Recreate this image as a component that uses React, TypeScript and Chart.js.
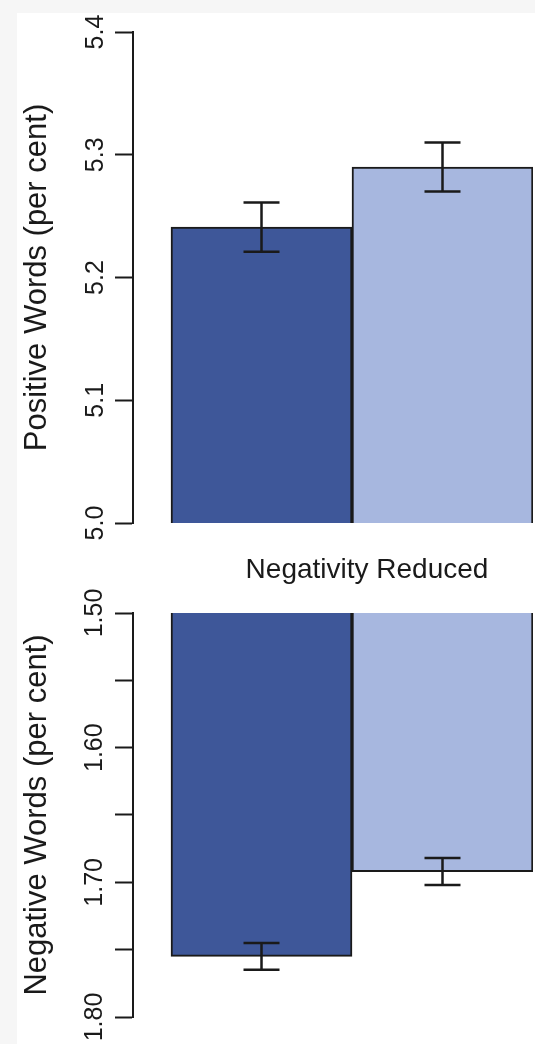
import React, { useEffect, useRef } from 'react';
import { Chart, registerables } from 'chart.js';

Chart.register(...registerables);

// ---- data ----
const groups = ['Control', 'Negativity Reduced'];
const barPositions = [0, 1];
const positiveMeans = [5.241, 5.29];
const positiveErrors = [0.02, 0.02];
const negativeMeans = [1.755, 1.692];
const negativeErrors = [0.01, 0.01];
const positiveTicks = [5.0, 5.1, 5.2, 5.3, 5.4];
const negativeTicks = [1.5, 1.55, 1.6, 1.65, 1.7, 1.75, 1.8];
const negativeLabelledTicks = [1.5, 1.6, 1.7, 1.8];
const positiveTitle = 'Positive Words (per cent)';
const negativeTitle = 'Negative Words (per cent)';
const groupLabel = 'Negativity Reduced';

const barColors = ['#3e5799', '#a7b7df'];
const FONT = '"Liberation Sans", Arial, sans-serif';
const INK = '#1a1a1a';

function errorBarPlugin(errors: number[]) {
  return {
    id: 'errorBars',
    afterDatasetsDraw(chart: any) {
      const meta = chart.getDatasetMeta(0);
      const y = chart.scales.y;
      const ctx = chart.ctx;
      const ds = chart.data.datasets[0];
      ctx.save();
      ctx.strokeStyle = INK;
      ctx.lineWidth = 2.5;
      meta.data.forEach((bar: any, i: number) => {
        const v = ds.data[i].y;
        const e = errors[i];
        const yTop = y.getPixelForValue(v + e);
        const yBot = y.getPixelForValue(v - e);
        const x = bar.x;
        const half = 18;
        ctx.beginPath();
        ctx.moveTo(x, yTop);
        ctx.lineTo(x, yBot);
        ctx.moveTo(x - half, yTop);
        ctx.lineTo(x + half, yTop);
        ctx.moveTo(x - half, yBot);
        ctx.lineTo(x + half, yBot);
        ctx.stroke();
      });
      ctx.restore();
    },
  };
}

function makeChart(
  canvas: HTMLCanvasElement,
  means: number[],
  errors: number[],
  ticks: number[],
  reverse: boolean,
  labelFn: (v: number) => string,
  title: string,
  padTop: number,
  padBottom: number,
  labelPadding: number
) {
  return new Chart(canvas, {
    type: 'bar',
    data: {
      labels: groups,
      datasets: [
        {
          label: title,
          data: barPositions.map((x, i) => ({ x, y: means[i] })) as any,
          backgroundColor: barColors,
          borderColor: INK,
          borderWidth: 2,
          borderSkipped: false,
          barPercentage: 1,
          categoryPercentage: 1,
        },
      ],
    },
    options: {
      responsive: false,
      animation: false,
      layout: { padding: { left: 0, right: 2, top: padTop, bottom: padBottom } },
      plugins: {
        legend: { display: false },
        tooltip: { enabled: false },
        title: { display: false },
      },
      scales: {
        x: {
          type: 'linear',
          min: -0.71,
          max: 1.5,
          offset: false,
          display: false,
          afterBuildTicks: (s: any) => {
            s.ticks = barPositions.map((v) => ({ value: v }));
          },
        },
        y: {
          type: 'linear',
          position: 'left',
          min: ticks[0],
          max: ticks[ticks.length - 1],
          reverse,
          afterBuildTicks: (s: any) => {
            s.ticks = ticks.map((v) => ({ value: v }));
          },
          afterFit: (s: any) => {
            s.width = 133;
          },
          border: { display: true, color: INK, width: 2 },
          grid: {
            drawOnChartArea: false,
            drawTicks: true,
            tickLength: 18,
            tickWidth: 2,
            tickColor: INK,
            color: INK,
          },
          ticks: {
            minRotation: 90,
            maxRotation: 90,
            crossAlign: 'center',
            padding: labelPadding,
            autoSkip: false,
            color: INK,
            font: { family: FONT, size: 25 },
            callback: (v: any) => labelFn(Number(v)),
          },
          title: {
            display: true,
            text: title,
            color: INK,
            font: { family: FONT, size: 31 },
            padding: { top: 19, bottom: 0 },
          },
        },
      },
    } as any,
    plugins: [errorBarPlugin(errors)],
  });
}

export default function App() {
  const topRef = useRef<HTMLCanvasElement>(null);
  const bottomRef = useRef<HTMLCanvasElement>(null);

  useEffect(() => {
    const c1 = makeChart(
      topRef.current!,
      positiveMeans,
      positiveErrors,
      positiveTicks,
      false,
      (v) => v.toFixed(1),
      positiveTitle,
      32,
      27,
      2
    );
    const c2 = makeChart(
      bottomRef.current!,
      negativeMeans,
      negativeErrors,
      negativeTicks,
      true,
      (v) => (negativeLabelledTicks.some((t) => Math.abs(t - v) < 1e-6) ? v.toFixed(2) : ''),
      negativeTitle,
      63,
      27,
      -4
    );
    return () => {
      c1.destroy();
      c2.destroy();
    };
  }, []);

  return (
    <div
      style={{
        position: 'fixed',
        left: 0,
        top: 0,
        width: 535,
        height: 1044,
        background: '#f6f6f6',
        overflow: 'hidden',
      }}
    >
      <div style={{ position: 'absolute', left: 17, top: 13, right: 0, bottom: 0, background: '#ffffff' }} />
      <canvas ref={topRef} width={535} height={550} style={{ position: 'absolute', left: 0, top: 0 }} />
      <canvas ref={bottomRef} width={535} height={494} style={{ position: 'absolute', left: 0, top: 550 }} />
      <div
        style={{
          position: 'absolute',
          left: 167,
          width: 400,
          top: 555,
          textAlign: 'center',
          fontFamily: FONT,
          fontSize: 28,
          lineHeight: '28px',
          color: INK,
        }}
      >
        {groupLabel}
      </div>
    </div>
  );
}
